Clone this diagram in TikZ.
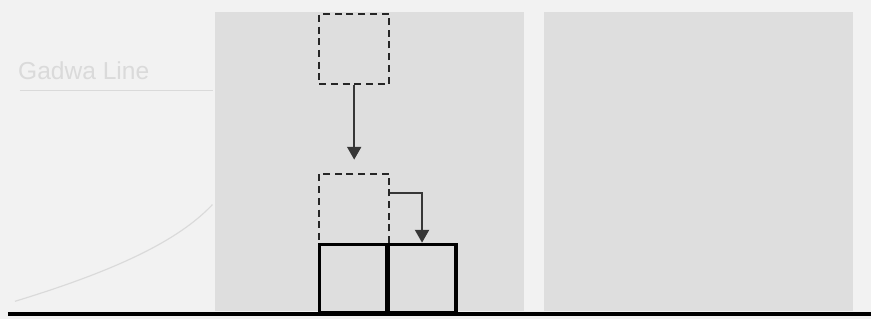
\documentclass[tikz,border=0pt]{standalone}
\usepackage{xcolor}
\usepackage{fontspec}
\setmainfont{Liberation Sans}
\usetikzlibrary{arrows.meta, positioning, calc}
\definecolor{pagebg}{RGB}{242, 242, 242}
\definecolor{panelbg}{RGB}{222, 222, 222}
\definecolor{linegray}{RGB}{55, 55, 55}
\definecolor{fadegray}{RGB}{218, 218, 218}

\begin{document}
\begin{tikzpicture}[x=0.03cm, y=-0.03cm,
    ghostbox/.style={draw=black!85, dash pattern=on 6pt off 4pt, line width=1.6pt,
                     minimum size=2.1cm, inner sep=0pt, fill=panelbg},
    blockbox/.style={draw=black, line width=3pt, minimum size=2.04cm, inner sep=0pt, fill=panelbg},
    droparrow/.style={draw=linegray, line width=1.8pt, -{Triangle[length=11pt, width=12pt]}}]
    % page and panels
    \fill[pagebg] (0,0) rectangle (873,320);
    \fill[panelbg] (215,12) rectangle (525,312);
    \fill[panelbg] (545,12) rectangle (855,312);
    % faded guide text
    \node[text=fadegray, font=\fontsize{21}{24}\selectfont, anchor=west, inner sep=0pt] (guidetxt) at (18,71) {Gadwa Line};
    \draw[fadegray, line width=1pt] (20,91) -- (213,91);
    \draw[fadegray, line width=1pt] (15,302) .. controls (120,270) and (180,240) .. (213,205);
    % falling piece
    \node[ghostbox] (start) at (355,49) {};
    \node[ghostbox] (land) at (355,209) {};
    \node[blockbox] (left) at (354,279) {};
    \node[blockbox] (right) at (423,279) {};
    \coordinate (droptip) at (355,160);
    \draw[droparrow] (start.south) -- (droptip);
    \draw[droparrow] ($(land.east)+(0,-16)$) -| (right.north);
    % ground
    \draw[black, line width=3.4pt] (8,315) -- (873,315);
\end{tikzpicture}
\end{document}
